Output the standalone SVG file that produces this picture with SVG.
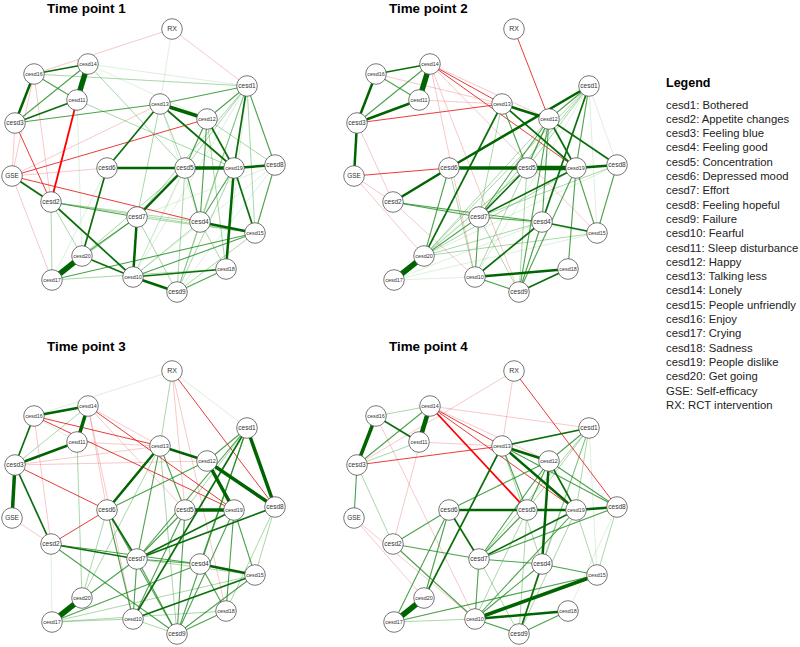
<svg xmlns="http://www.w3.org/2000/svg" width="800" height="647" viewBox="0 0 800 647">
<style>
line{fill:none}
.g6{stroke:#006400;stroke-width:5.5}
.g5{stroke:#006400;stroke-width:4.5}
.g4{stroke:#006400;stroke-width:3.5}
.g3{stroke:#006400;stroke-width:2.5}
.g2{stroke:#0b6e0b;stroke-width:1.7}
.g1{stroke:#1f8a1f;stroke-width:1.1;stroke-opacity:.8}
.g0{stroke:#3aa33a;stroke-width:.8;stroke-opacity:.55}
.gl{stroke:#5cb85c;stroke-width:.6;stroke-opacity:.35}
.r2{stroke:#ff0000;stroke-width:1.8}
.r1{stroke:#e41a1a;stroke-width:1;stroke-opacity:.85}
.r0{stroke:#e85050;stroke-width:.7;stroke-opacity:.45}
.n circle{fill:#fff;stroke:#555;stroke-width:.8}
.n text{font-family:"Liberation Sans",Arial,sans-serif;fill:#333;text-anchor:middle}
.s{font-size:6.5px}
.t{font-size:5.4px}
.x{font-size:7px}
.title{font-family:"Liberation Sans",Arial,sans-serif;font-weight:bold;font-size:13.4px;fill:#000}
.lh{font-family:"Liberation Sans",Arial,sans-serif;font-weight:bold;font-size:12.5px;fill:#000}
.li{font-family:"Liberation Sans",Arial,sans-serif;font-size:11.3px;fill:#222}
</style>
<rect width="800" height="647" fill="#fff"/>
<text class="title" x="47" y="12.7">Time point 1</text>
<text class="title" x="389" y="12.7">Time point 2</text>
<text class="title" x="47" y="350.5">Time point 3</text>
<text class="title" x="389" y="350.5">Time point 4</text>
<g id="connectors">
<g id="edges-tp1">
<line class="gl" x1="88" y1="64" x2="247" y2="86"/>
<line class="gl" x1="88" y1="64" x2="207" y2="119"/>
<line class="gl" x1="77" y1="100" x2="82" y2="256"/>
<line class="gl" x1="107" y1="168" x2="52" y2="280"/>
<line class="gl" x1="160" y1="104" x2="200" y2="222"/>
<line class="gl" x1="172" y1="29" x2="160" y2="104"/>
<line class="gl" x1="207" y1="119" x2="133" y2="277"/>
<line class="gl" x1="247" y1="86" x2="133" y2="277"/>
<line class="gl" x1="247" y1="86" x2="226" y2="269"/>
<line class="gl" x1="185" y1="168" x2="133" y2="277"/>
<line class="gl" x1="275" y1="165" x2="137" y2="217"/>
<line class="gl" x1="275" y1="165" x2="133" y2="277"/>
<line class="gl" x1="275" y1="165" x2="177" y2="292"/>
<line class="r0" x1="34" y1="74" x2="51" y2="202"/>
<line class="r0" x1="34" y1="74" x2="12" y2="176"/>
<line class="r0" x1="15" y1="123" x2="12" y2="176"/>
<line class="r0" x1="12" y1="176" x2="160" y2="104"/>
<line class="r0" x1="12" y1="176" x2="107" y2="168"/>
<line class="r0" x1="12" y1="176" x2="52" y2="280"/>
<line class="r0" x1="172" y1="29" x2="34" y2="74"/>
<line class="r0" x1="172" y1="29" x2="247" y2="86"/>
<line class="g0" x1="34" y1="74" x2="247" y2="86"/>
<line class="g0" x1="88" y1="64" x2="185" y2="168"/>
<line class="g0" x1="77" y1="100" x2="234" y2="168"/>
<line class="g0" x1="51" y1="202" x2="200" y2="222"/>
<line class="g0" x1="51" y1="202" x2="255" y2="233"/>
<line class="g0" x1="51" y1="202" x2="52" y2="280"/>
<line class="g0" x1="51" y1="202" x2="82" y2="256"/>
<line class="g0" x1="160" y1="104" x2="137" y2="217"/>
<line class="g0" x1="160" y1="104" x2="185" y2="168"/>
<line class="g0" x1="207" y1="119" x2="226" y2="269"/>
<line class="g0" x1="247" y1="86" x2="185" y2="168"/>
<line class="g0" x1="247" y1="86" x2="137" y2="217"/>
<line class="g0" x1="247" y1="86" x2="200" y2="222"/>
<line class="g0" x1="247" y1="86" x2="255" y2="233"/>
<line class="g0" x1="247" y1="86" x2="177" y2="292"/>
<line class="g0" x1="185" y1="168" x2="177" y2="292"/>
<line class="g0" x1="185" y1="168" x2="82" y2="256"/>
<line class="g0" x1="234" y1="168" x2="177" y2="292"/>
<line class="g0" x1="275" y1="165" x2="207" y2="119"/>
<line class="g0" x1="200" y1="222" x2="226" y2="269"/>
<line class="g0" x1="200" y1="222" x2="177" y2="292"/>
<line class="g0" x1="200" y1="222" x2="133" y2="277"/>
<line class="g0" x1="137" y1="217" x2="52" y2="280"/>
<line class="g0" x1="137" y1="217" x2="255" y2="233"/>
<line class="g0" x1="137" y1="217" x2="177" y2="292"/>
<line class="g0" x1="52" y1="280" x2="226" y2="269"/>
<line class="g0" x1="177" y1="292" x2="255" y2="233"/>
<line class="r1" x1="15" y1="123" x2="51" y2="202"/>
<line class="r1" x1="12" y1="176" x2="207" y2="119"/>
<line class="r1" x1="12" y1="176" x2="200" y2="222"/>
<line class="g1" x1="15" y1="123" x2="88" y2="64"/>
<line class="g1" x1="34" y1="74" x2="77" y2="100"/>
<line class="g1" x1="15" y1="123" x2="160" y2="104"/>
<line class="g1" x1="51" y1="202" x2="137" y2="217"/>
<line class="g1" x1="160" y1="104" x2="247" y2="86"/>
<line class="g1" x1="207" y1="119" x2="185" y2="168"/>
<line class="g1" x1="207" y1="119" x2="200" y2="222"/>
<line class="g1" x1="247" y1="86" x2="207" y2="119"/>
<line class="g1" x1="247" y1="86" x2="275" y2="165"/>
<line class="g1" x1="185" y1="168" x2="200" y2="222"/>
<line class="g1" x1="234" y1="168" x2="200" y2="222"/>
<line class="g1" x1="275" y1="165" x2="255" y2="233"/>
<line class="g1" x1="137" y1="217" x2="82" y2="256"/>
<line class="g1" x1="133" y1="277" x2="255" y2="233"/>
<line class="g1" x1="52" y1="280" x2="255" y2="233"/>
<line class="g1" x1="177" y1="292" x2="226" y2="269"/>
<line class="r2" x1="77" y1="100" x2="51" y2="202"/>
<line class="g2" x1="88" y1="64" x2="34" y2="74"/>
<line class="g2" x1="15" y1="123" x2="77" y2="100"/>
<line class="g2" x1="12" y1="176" x2="51" y2="202"/>
<line class="g2" x1="51" y1="202" x2="133" y2="277"/>
<line class="g2" x1="107" y1="168" x2="82" y2="256"/>
<line class="g2" x1="107" y1="168" x2="160" y2="104"/>
<line class="g2" x1="160" y1="104" x2="234" y2="168"/>
<line class="g2" x1="207" y1="119" x2="234" y2="168"/>
<line class="g2" x1="247" y1="86" x2="234" y2="168"/>
<line class="g2" x1="234" y1="168" x2="255" y2="233"/>
<line class="g2" x1="133" y1="277" x2="226" y2="269"/>
<line class="g2" x1="133" y1="277" x2="82" y2="256"/>
<line class="g3" x1="34" y1="74" x2="15" y2="123"/>
<line class="g3" x1="107" y1="168" x2="185" y2="168"/>
<line class="g3" x1="234" y1="168" x2="275" y2="165"/>
<line class="g3" x1="185" y1="168" x2="137" y2="217"/>
<line class="g3" x1="234" y1="168" x2="226" y2="269"/>
<line class="g3" x1="200" y1="222" x2="255" y2="233"/>
<line class="g3" x1="137" y1="217" x2="133" y2="277"/>
<line class="g3" x1="133" y1="277" x2="177" y2="292"/>
<line class="g4" x1="160" y1="104" x2="207" y2="119"/>
<line class="g4" x1="185" y1="168" x2="234" y2="168"/>
<line class="g6" x1="88" y1="64" x2="77" y2="100"/>
<line class="g6" x1="82" y1="256" x2="52" y2="280"/>
</g>
<g id="edges-tp2" transform="translate(342,0)">
<line class="gl" x1="51" y1="202" x2="255" y2="233"/>
<line class="gl" x1="247" y1="86" x2="275" y2="165"/>
<line class="gl" x1="247" y1="86" x2="255" y2="233"/>
<line class="gl" x1="247" y1="86" x2="133" y2="277"/>
<line class="gl" x1="247" y1="86" x2="177" y2="292"/>
<line class="gl" x1="185" y1="168" x2="52" y2="280"/>
<line class="gl" x1="275" y1="165" x2="82" y2="256"/>
<line class="gl" x1="52" y1="280" x2="133" y2="277"/>
<line class="gl" x1="52" y1="280" x2="200" y2="222"/>
<line class="gl" x1="52" y1="280" x2="255" y2="233"/>
<line class="r0" x1="34" y1="74" x2="160" y2="104"/>
<line class="r0" x1="77" y1="100" x2="160" y2="104"/>
<line class="r0" x1="88" y1="64" x2="207" y2="119"/>
<line class="r0" x1="88" y1="64" x2="255" y2="233"/>
<line class="r0" x1="88" y1="64" x2="177" y2="292"/>
<line class="r0" x1="88" y1="64" x2="133" y2="277"/>
<line class="r0" x1="12" y1="176" x2="51" y2="202"/>
<line class="r0" x1="15" y1="123" x2="51" y2="202"/>
<line class="r0" x1="51" y1="202" x2="133" y2="277"/>
<line class="r0" x1="12" y1="176" x2="82" y2="256"/>
<line class="g0" x1="160" y1="104" x2="137" y2="217"/>
<line class="g0" x1="207" y1="119" x2="82" y2="256"/>
<line class="g0" x1="207" y1="119" x2="133" y2="277"/>
<line class="g0" x1="247" y1="86" x2="137" y2="217"/>
<line class="g0" x1="247" y1="86" x2="82" y2="256"/>
<line class="g0" x1="247" y1="86" x2="185" y2="168"/>
<line class="g0" x1="185" y1="168" x2="82" y2="256"/>
<line class="g0" x1="275" y1="165" x2="137" y2="217"/>
<line class="g0" x1="137" y1="217" x2="177" y2="292"/>
<line class="g0" x1="82" y1="256" x2="255" y2="233"/>
<line class="g0" x1="82" y1="256" x2="200" y2="222"/>
<line class="g0" x1="82" y1="256" x2="234" y2="168"/>
<line class="g0" x1="107" y1="168" x2="133" y2="277"/>
<line class="g0" x1="185" y1="168" x2="177" y2="292"/>
<line class="r1" x1="15" y1="123" x2="160" y2="104"/>
<line class="r1" x1="88" y1="64" x2="160" y2="104"/>
<line class="r1" x1="88" y1="64" x2="234" y2="168"/>
<line class="r1" x1="172" y1="29" x2="207" y2="119"/>
<line class="r1" x1="12" y1="176" x2="107" y2="168"/>
<line class="g1" x1="15" y1="123" x2="88" y2="64"/>
<line class="g1" x1="34" y1="74" x2="77" y2="100"/>
<line class="g1" x1="51" y1="202" x2="137" y2="217"/>
<line class="g1" x1="51" y1="202" x2="200" y2="222"/>
<line class="g1" x1="107" y1="168" x2="82" y2="256"/>
<line class="g1" x1="160" y1="104" x2="185" y2="168"/>
<line class="g1" x1="207" y1="119" x2="185" y2="168"/>
<line class="g1" x1="207" y1="119" x2="137" y2="217"/>
<line class="g1" x1="207" y1="119" x2="200" y2="222"/>
<line class="g1" x1="247" y1="86" x2="207" y2="119"/>
<line class="g1" x1="247" y1="86" x2="234" y2="168"/>
<line class="g1" x1="234" y1="168" x2="255" y2="233"/>
<line class="g1" x1="234" y1="168" x2="226" y2="269"/>
<line class="g1" x1="234" y1="168" x2="177" y2="292"/>
<line class="g1" x1="275" y1="165" x2="255" y2="233"/>
<line class="g1" x1="200" y1="222" x2="177" y2="292"/>
<line class="g1" x1="200" y1="222" x2="137" y2="217"/>
<line class="g1" x1="137" y1="217" x2="133" y2="277"/>
<line class="g1" x1="137" y1="217" x2="82" y2="256"/>
<line class="g1" x1="133" y1="277" x2="177" y2="292"/>
<line class="g1" x1="177" y1="292" x2="207" y2="119"/>
<line class="g2" x1="88" y1="64" x2="34" y2="74"/>
<line class="g2" x1="160" y1="104" x2="82" y2="256"/>
<line class="g2" x1="160" y1="104" x2="234" y2="168"/>
<line class="g2" x1="207" y1="119" x2="275" y2="165"/>
<line class="g2" x1="207" y1="119" x2="234" y2="168"/>
<line class="g2" x1="247" y1="86" x2="200" y2="222"/>
<line class="g2" x1="234" y1="168" x2="137" y2="217"/>
<line class="g2" x1="185" y1="168" x2="137" y2="217"/>
<line class="g2" x1="200" y1="222" x2="255" y2="233"/>
<line class="g2" x1="200" y1="222" x2="133" y2="277"/>
<line class="g2" x1="177" y1="292" x2="226" y2="269"/>
<line class="g3" x1="34" y1="74" x2="15" y2="123"/>
<line class="g3" x1="15" y1="123" x2="77" y2="100"/>
<line class="g3" x1="15" y1="123" x2="12" y2="176"/>
<line class="g3" x1="51" y1="202" x2="107" y2="168"/>
<line class="g3" x1="107" y1="168" x2="247" y2="86"/>
<line class="g3" x1="160" y1="104" x2="207" y2="119"/>
<line class="g3" x1="234" y1="168" x2="275" y2="165"/>
<line class="g3" x1="133" y1="277" x2="226" y2="269"/>
<line class="g4" x1="107" y1="168" x2="185" y2="168"/>
<line class="g5" x1="185" y1="168" x2="234" y2="168"/>
<line class="g6" x1="88" y1="64" x2="77" y2="100"/>
<line class="g6" x1="82" y1="256" x2="52" y2="280"/>
</g>
<g id="edges-tp3" transform="translate(0,342)">
<line class="gl" x1="172" y1="29" x2="34" y2="74"/>
<line class="gl" x1="172" y1="29" x2="247" y2="86"/>
<line class="gl" x1="34" y1="74" x2="77" y2="100"/>
<line class="gl" x1="51" y1="202" x2="52" y2="280"/>
<line class="r0" x1="172" y1="29" x2="185" y2="168"/>
<line class="r0" x1="172" y1="29" x2="226" y2="269"/>
<line class="r0" x1="88" y1="64" x2="160" y2="104"/>
<line class="r0" x1="88" y1="64" x2="107" y2="168"/>
<line class="r0" x1="88" y1="64" x2="133" y2="277"/>
<line class="r0" x1="88" y1="64" x2="185" y2="168"/>
<line class="r0" x1="77" y1="100" x2="160" y2="104"/>
<line class="r0" x1="15" y1="123" x2="207" y2="119"/>
<line class="r0" x1="15" y1="123" x2="160" y2="104"/>
<line class="r0" x1="12" y1="176" x2="51" y2="202"/>
<line class="r0" x1="34" y1="74" x2="51" y2="202"/>
<line class="g0" x1="172" y1="29" x2="160" y2="104"/>
<line class="g0" x1="15" y1="123" x2="88" y2="64"/>
<line class="g0" x1="107" y1="168" x2="82" y2="256"/>
<line class="g0" x1="247" y1="86" x2="185" y2="168"/>
<line class="g0" x1="160" y1="104" x2="82" y2="256"/>
<line class="g0" x1="160" y1="104" x2="177" y2="292"/>
<line class="g0" x1="137" y1="217" x2="255" y2="233"/>
<line class="g0" x1="255" y1="233" x2="52" y2="280"/>
<line class="g0" x1="52" y1="280" x2="133" y2="277"/>
<line class="g0" x1="52" y1="280" x2="226" y2="269"/>
<line class="g0" x1="133" y1="277" x2="177" y2="292"/>
<line class="g0" x1="275" y1="165" x2="255" y2="233"/>
<line class="g0" x1="275" y1="165" x2="226" y2="269"/>
<line class="g0" x1="77" y1="100" x2="82" y2="256"/>
<line class="r1" x1="172" y1="29" x2="275" y2="165"/>
<line class="r1" x1="34" y1="74" x2="160" y2="104"/>
<line class="r1" x1="34" y1="74" x2="234" y2="168"/>
<line class="r1" x1="88" y1="64" x2="234" y2="168"/>
<line class="r1" x1="15" y1="123" x2="107" y2="168"/>
<line class="r1" x1="107" y1="168" x2="51" y2="202"/>
<line class="g1" x1="107" y1="168" x2="133" y2="277"/>
<line class="g1" x1="107" y1="168" x2="177" y2="292"/>
<line class="g1" x1="107" y1="168" x2="207" y2="119"/>
<line class="g1" x1="247" y1="86" x2="207" y2="119"/>
<line class="g1" x1="247" y1="86" x2="177" y2="292"/>
<line class="g1" x1="247" y1="86" x2="137" y2="217"/>
<line class="g1" x1="247" y1="86" x2="200" y2="222"/>
<line class="g1" x1="185" y1="168" x2="137" y2="217"/>
<line class="g1" x1="185" y1="168" x2="133" y2="277"/>
<line class="g1" x1="185" y1="168" x2="177" y2="292"/>
<line class="g1" x1="160" y1="104" x2="185" y2="168"/>
<line class="g1" x1="160" y1="104" x2="137" y2="217"/>
<line class="g1" x1="51" y1="202" x2="200" y2="222"/>
<line class="g1" x1="51" y1="202" x2="177" y2="292"/>
<line class="g1" x1="137" y1="217" x2="200" y2="222"/>
<line class="g1" x1="137" y1="217" x2="177" y2="292"/>
<line class="g1" x1="137" y1="217" x2="52" y2="280"/>
<line class="g1" x1="137" y1="217" x2="133" y2="277"/>
<line class="g1" x1="200" y1="222" x2="52" y2="280"/>
<line class="g1" x1="200" y1="222" x2="226" y2="269"/>
<line class="g1" x1="255" y1="233" x2="177" y2="292"/>
<line class="g1" x1="177" y1="292" x2="226" y2="269"/>
<line class="g1" x1="234" y1="168" x2="255" y2="233"/>
<line class="g1" x1="234" y1="168" x2="177" y2="292"/>
<line class="g1" x1="234" y1="168" x2="226" y2="269"/>
<line class="g2" x1="34" y1="74" x2="15" y2="123"/>
<line class="g2" x1="15" y1="123" x2="51" y2="202"/>
<line class="g2" x1="107" y1="168" x2="137" y2="217"/>
<line class="g2" x1="247" y1="86" x2="133" y2="277"/>
<line class="g2" x1="234" y1="168" x2="137" y2="217"/>
<line class="g2" x1="275" y1="165" x2="137" y2="217"/>
<line class="g2" x1="51" y1="202" x2="137" y2="217"/>
<line class="g2" x1="255" y1="233" x2="133" y2="277"/>
<line class="g3" x1="88" y1="64" x2="34" y2="74"/>
<line class="g3" x1="15" y1="123" x2="77" y2="100"/>
<line class="g3" x1="107" y1="168" x2="160" y2="104"/>
<line class="g3" x1="160" y1="104" x2="207" y2="119"/>
<line class="g3" x1="200" y1="222" x2="255" y2="233"/>
<line class="g4" x1="88" y1="64" x2="77" y2="100"/>
<line class="g4" x1="15" y1="123" x2="12" y2="176"/>
<line class="g4" x1="207" y1="119" x2="275" y2="165"/>
<line class="g4" x1="207" y1="119" x2="234" y2="168"/>
<line class="g4" x1="234" y1="168" x2="185" y2="168"/>
<line class="g4" x1="247" y1="86" x2="275" y2="165"/>
<line class="g6" x1="82" y1="256" x2="52" y2="280"/>
</g>
<g id="edges-tp4" transform="translate(342,342)">
<line class="gl" x1="247" y1="86" x2="255" y2="233"/>
<line class="gl" x1="275" y1="165" x2="226" y2="269"/>
<line class="r0" x1="172" y1="29" x2="15" y2="123"/>
<line class="r0" x1="172" y1="29" x2="160" y2="104"/>
<line class="r0" x1="88" y1="64" x2="207" y2="119"/>
<line class="r0" x1="88" y1="64" x2="247" y2="86"/>
<line class="r0" x1="77" y1="100" x2="160" y2="104"/>
<line class="r0" x1="34" y1="74" x2="133" y2="277"/>
<line class="r0" x1="88" y1="64" x2="51" y2="202"/>
<line class="r0" x1="12" y1="176" x2="133" y2="277"/>
<line class="r0" x1="12" y1="176" x2="82" y2="256"/>
<line class="g0" x1="88" y1="64" x2="34" y2="74"/>
<line class="g0" x1="15" y1="123" x2="77" y2="100"/>
<line class="g0" x1="15" y1="123" x2="51" y2="202"/>
<line class="g0" x1="160" y1="104" x2="200" y2="222"/>
<line class="g0" x1="247" y1="86" x2="185" y2="168"/>
<line class="g0" x1="247" y1="86" x2="137" y2="217"/>
<line class="g0" x1="247" y1="86" x2="200" y2="222"/>
<line class="g0" x1="247" y1="86" x2="234" y2="168"/>
<line class="g0" x1="247" y1="86" x2="177" y2="292"/>
<line class="g0" x1="137" y1="217" x2="177" y2="292"/>
<line class="g0" x1="52" y1="280" x2="133" y2="277"/>
<line class="g0" x1="234" y1="168" x2="177" y2="292"/>
<line class="g0" x1="275" y1="165" x2="255" y2="233"/>
<line class="g0" x1="185" y1="168" x2="177" y2="292"/>
<line class="g0" x1="185" y1="168" x2="133" y2="277"/>
<line class="g0" x1="234" y1="168" x2="255" y2="233"/>
<line class="r1" x1="172" y1="29" x2="275" y2="165"/>
<line class="r1" x1="15" y1="123" x2="160" y2="104"/>
<line class="r1" x1="88" y1="64" x2="160" y2="104"/>
<line class="r1" x1="88" y1="64" x2="234" y2="168"/>
<line class="g1" x1="88" y1="64" x2="15" y2="123"/>
<line class="g1" x1="15" y1="123" x2="12" y2="176"/>
<line class="g1" x1="160" y1="104" x2="275" y2="165"/>
<line class="g1" x1="160" y1="104" x2="185" y2="168"/>
<line class="g1" x1="207" y1="119" x2="275" y2="165"/>
<line class="g1" x1="207" y1="119" x2="185" y2="168"/>
<line class="g1" x1="207" y1="119" x2="137" y2="217"/>
<line class="g1" x1="207" y1="119" x2="107" y2="168"/>
<line class="g1" x1="247" y1="86" x2="207" y2="119"/>
<line class="g1" x1="107" y1="168" x2="51" y2="202"/>
<line class="g1" x1="107" y1="168" x2="82" y2="256"/>
<line class="g1" x1="107" y1="168" x2="52" y2="280"/>
<line class="g1" x1="51" y1="202" x2="137" y2="217"/>
<line class="g1" x1="51" y1="202" x2="133" y2="277"/>
<line class="g1" x1="137" y1="217" x2="200" y2="222"/>
<line class="g1" x1="137" y1="217" x2="275" y2="165"/>
<line class="g1" x1="137" y1="217" x2="185" y2="168"/>
<line class="g1" x1="137" y1="217" x2="133" y2="277"/>
<line class="g1" x1="200" y1="222" x2="255" y2="233"/>
<line class="g1" x1="200" y1="222" x2="133" y2="277"/>
<line class="g1" x1="133" y1="277" x2="177" y2="292"/>
<line class="g1" x1="52" y1="280" x2="255" y2="233"/>
<line class="g1" x1="177" y1="292" x2="226" y2="269"/>
<line class="g1" x1="234" y1="168" x2="133" y2="277"/>
<line class="r2" x1="88" y1="64" x2="185" y2="168"/>
<line class="g2" x1="34" y1="74" x2="77" y2="100"/>
<line class="g2" x1="160" y1="104" x2="247" y2="86"/>
<line class="g2" x1="160" y1="104" x2="82" y2="256"/>
<line class="g2" x1="207" y1="119" x2="234" y2="168"/>
<line class="g2" x1="107" y1="168" x2="137" y2="217"/>
<line class="g2" x1="137" y1="217" x2="234" y2="168"/>
<line class="g2" x1="200" y1="222" x2="177" y2="292"/>
<line class="g3" x1="160" y1="104" x2="207" y2="119"/>
<line class="g3" x1="160" y1="104" x2="234" y2="168"/>
<line class="g3" x1="207" y1="119" x2="200" y2="222"/>
<line class="g3" x1="107" y1="168" x2="185" y2="168"/>
<line class="g3" x1="185" y1="168" x2="234" y2="168"/>
<line class="g3" x1="234" y1="168" x2="275" y2="165"/>
<line class="g3" x1="133" y1="277" x2="226" y2="269"/>
<line class="g4" x1="34" y1="74" x2="15" y2="123"/>
<line class="g4" x1="133" y1="277" x2="255" y2="233"/>
<line class="g5" x1="88" y1="64" x2="77" y2="100"/>
<line class="g6" x1="82" y1="256" x2="52" y2="280"/>
</g>
</g>
<g id="nodes-tp1" class="n">
<g id="tp1-RX"><circle cx="172" cy="29" r="10.3"/><text class="x" x="172" y="31.4">RX</text></g>
<g id="tp1-cesd1"><circle cx="247" cy="86" r="10.3"/><text class="s" x="247" y="88.3">cesd1</text></g>
<g id="tp1-cesd2"><circle cx="51" cy="202" r="10.3"/><text class="s" x="51" y="204.3">cesd2</text></g>
<g id="tp1-cesd3"><circle cx="15" cy="123" r="10.3"/><text class="s" x="15" y="125.3">cesd3</text></g>
<g id="tp1-cesd4"><circle cx="200" cy="222" r="10.3"/><text class="s" x="200" y="224.3">cesd4</text></g>
<g id="tp1-cesd5"><circle cx="185" cy="168" r="10.3"/><text class="s" x="185" y="170.3">cesd5</text></g>
<g id="tp1-cesd6"><circle cx="107" cy="168" r="10.3"/><text class="s" x="107" y="170.3">cesd6</text></g>
<g id="tp1-cesd7"><circle cx="137" cy="217" r="10.3"/><text class="s" x="137" y="219.3">cesd7</text></g>
<g id="tp1-cesd8"><circle cx="275" cy="165" r="10.3"/><text class="s" x="275" y="167.3">cesd8</text></g>
<g id="tp1-cesd9"><circle cx="177" cy="292" r="10.3"/><text class="s" x="177" y="294.3">cesd9</text></g>
<g id="tp1-cesd10"><circle cx="133" cy="277" r="10.3"/><text class="t" x="133" y="279">cesd10</text></g>
<g id="tp1-cesd11"><circle cx="77" cy="100" r="10.3"/><text class="t" x="77" y="102">cesd11</text></g>
<g id="tp1-cesd12"><circle cx="207" cy="119" r="10.3"/><text class="t" x="207" y="121">cesd12</text></g>
<g id="tp1-cesd13"><circle cx="160" cy="104" r="10.3"/><text class="t" x="160" y="106">cesd13</text></g>
<g id="tp1-cesd14"><circle cx="88" cy="64" r="10.3"/><text class="t" x="88" y="66">cesd14</text></g>
<g id="tp1-cesd15"><circle cx="255" cy="233" r="10.3"/><text class="t" x="255" y="235">cesd15</text></g>
<g id="tp1-cesd16"><circle cx="34" cy="74" r="10.3"/><text class="t" x="34" y="76">cesd16</text></g>
<g id="tp1-cesd17"><circle cx="52" cy="280" r="10.3"/><text class="t" x="52" y="282">cesd17</text></g>
<g id="tp1-cesd18"><circle cx="226" cy="269" r="10.3"/><text class="t" x="226" y="271">cesd18</text></g>
<g id="tp1-cesd19"><circle cx="234" cy="168" r="10.3"/><text class="t" x="234" y="170">cesd19</text></g>
<g id="tp1-cesd20"><circle cx="82" cy="256" r="10.3"/><text class="t" x="82" y="258">cesd20</text></g>
<g id="tp1-GSE"><circle cx="12" cy="176" r="10.3"/><text class="s" x="12" y="178.3">GSE</text></g>
</g>
<g id="nodes-tp2" class="n" transform="translate(342,0)">
<g id="tp2-RX"><circle cx="172" cy="29" r="10.3"/><text class="x" x="172" y="31.4">RX</text></g>
<g id="tp2-cesd1"><circle cx="247" cy="86" r="10.3"/><text class="s" x="247" y="88.3">cesd1</text></g>
<g id="tp2-cesd2"><circle cx="51" cy="202" r="10.3"/><text class="s" x="51" y="204.3">cesd2</text></g>
<g id="tp2-cesd3"><circle cx="15" cy="123" r="10.3"/><text class="s" x="15" y="125.3">cesd3</text></g>
<g id="tp2-cesd4"><circle cx="200" cy="222" r="10.3"/><text class="s" x="200" y="224.3">cesd4</text></g>
<g id="tp2-cesd5"><circle cx="185" cy="168" r="10.3"/><text class="s" x="185" y="170.3">cesd5</text></g>
<g id="tp2-cesd6"><circle cx="107" cy="168" r="10.3"/><text class="s" x="107" y="170.3">cesd6</text></g>
<g id="tp2-cesd7"><circle cx="137" cy="217" r="10.3"/><text class="s" x="137" y="219.3">cesd7</text></g>
<g id="tp2-cesd8"><circle cx="275" cy="165" r="10.3"/><text class="s" x="275" y="167.3">cesd8</text></g>
<g id="tp2-cesd9"><circle cx="177" cy="292" r="10.3"/><text class="s" x="177" y="294.3">cesd9</text></g>
<g id="tp2-cesd10"><circle cx="133" cy="277" r="10.3"/><text class="t" x="133" y="279">cesd10</text></g>
<g id="tp2-cesd11"><circle cx="77" cy="100" r="10.3"/><text class="t" x="77" y="102">cesd11</text></g>
<g id="tp2-cesd12"><circle cx="207" cy="119" r="10.3"/><text class="t" x="207" y="121">cesd12</text></g>
<g id="tp2-cesd13"><circle cx="160" cy="104" r="10.3"/><text class="t" x="160" y="106">cesd13</text></g>
<g id="tp2-cesd14"><circle cx="88" cy="64" r="10.3"/><text class="t" x="88" y="66">cesd14</text></g>
<g id="tp2-cesd15"><circle cx="255" cy="233" r="10.3"/><text class="t" x="255" y="235">cesd15</text></g>
<g id="tp2-cesd16"><circle cx="34" cy="74" r="10.3"/><text class="t" x="34" y="76">cesd16</text></g>
<g id="tp2-cesd17"><circle cx="52" cy="280" r="10.3"/><text class="t" x="52" y="282">cesd17</text></g>
<g id="tp2-cesd18"><circle cx="226" cy="269" r="10.3"/><text class="t" x="226" y="271">cesd18</text></g>
<g id="tp2-cesd19"><circle cx="234" cy="168" r="10.3"/><text class="t" x="234" y="170">cesd19</text></g>
<g id="tp2-cesd20"><circle cx="82" cy="256" r="10.3"/><text class="t" x="82" y="258">cesd20</text></g>
<g id="tp2-GSE"><circle cx="12" cy="176" r="10.3"/><text class="s" x="12" y="178.3">GSE</text></g>
</g>
<g id="nodes-tp3" class="n" transform="translate(0,342)">
<g id="tp3-RX"><circle cx="172" cy="29" r="10.3"/><text class="x" x="172" y="31.4">RX</text></g>
<g id="tp3-cesd1"><circle cx="247" cy="86" r="10.3"/><text class="s" x="247" y="88.3">cesd1</text></g>
<g id="tp3-cesd2"><circle cx="51" cy="202" r="10.3"/><text class="s" x="51" y="204.3">cesd2</text></g>
<g id="tp3-cesd3"><circle cx="15" cy="123" r="10.3"/><text class="s" x="15" y="125.3">cesd3</text></g>
<g id="tp3-cesd4"><circle cx="200" cy="222" r="10.3"/><text class="s" x="200" y="224.3">cesd4</text></g>
<g id="tp3-cesd5"><circle cx="185" cy="168" r="10.3"/><text class="s" x="185" y="170.3">cesd5</text></g>
<g id="tp3-cesd6"><circle cx="107" cy="168" r="10.3"/><text class="s" x="107" y="170.3">cesd6</text></g>
<g id="tp3-cesd7"><circle cx="137" cy="217" r="10.3"/><text class="s" x="137" y="219.3">cesd7</text></g>
<g id="tp3-cesd8"><circle cx="275" cy="165" r="10.3"/><text class="s" x="275" y="167.3">cesd8</text></g>
<g id="tp3-cesd9"><circle cx="177" cy="292" r="10.3"/><text class="s" x="177" y="294.3">cesd9</text></g>
<g id="tp3-cesd10"><circle cx="133" cy="277" r="10.3"/><text class="t" x="133" y="279">cesd10</text></g>
<g id="tp3-cesd11"><circle cx="77" cy="100" r="10.3"/><text class="t" x="77" y="102">cesd11</text></g>
<g id="tp3-cesd12"><circle cx="207" cy="119" r="10.3"/><text class="t" x="207" y="121">cesd12</text></g>
<g id="tp3-cesd13"><circle cx="160" cy="104" r="10.3"/><text class="t" x="160" y="106">cesd13</text></g>
<g id="tp3-cesd14"><circle cx="88" cy="64" r="10.3"/><text class="t" x="88" y="66">cesd14</text></g>
<g id="tp3-cesd15"><circle cx="255" cy="233" r="10.3"/><text class="t" x="255" y="235">cesd15</text></g>
<g id="tp3-cesd16"><circle cx="34" cy="74" r="10.3"/><text class="t" x="34" y="76">cesd16</text></g>
<g id="tp3-cesd17"><circle cx="52" cy="280" r="10.3"/><text class="t" x="52" y="282">cesd17</text></g>
<g id="tp3-cesd18"><circle cx="226" cy="269" r="10.3"/><text class="t" x="226" y="271">cesd18</text></g>
<g id="tp3-cesd19"><circle cx="234" cy="168" r="10.3"/><text class="t" x="234" y="170">cesd19</text></g>
<g id="tp3-cesd20"><circle cx="82" cy="256" r="10.3"/><text class="t" x="82" y="258">cesd20</text></g>
<g id="tp3-GSE"><circle cx="12" cy="176" r="10.3"/><text class="s" x="12" y="178.3">GSE</text></g>
</g>
<g id="nodes-tp4" class="n" transform="translate(342,342)">
<g id="tp4-RX"><circle cx="172" cy="29" r="10.3"/><text class="x" x="172" y="31.4">RX</text></g>
<g id="tp4-cesd1"><circle cx="247" cy="86" r="10.3"/><text class="s" x="247" y="88.3">cesd1</text></g>
<g id="tp4-cesd2"><circle cx="51" cy="202" r="10.3"/><text class="s" x="51" y="204.3">cesd2</text></g>
<g id="tp4-cesd3"><circle cx="15" cy="123" r="10.3"/><text class="s" x="15" y="125.3">cesd3</text></g>
<g id="tp4-cesd4"><circle cx="200" cy="222" r="10.3"/><text class="s" x="200" y="224.3">cesd4</text></g>
<g id="tp4-cesd5"><circle cx="185" cy="168" r="10.3"/><text class="s" x="185" y="170.3">cesd5</text></g>
<g id="tp4-cesd6"><circle cx="107" cy="168" r="10.3"/><text class="s" x="107" y="170.3">cesd6</text></g>
<g id="tp4-cesd7"><circle cx="137" cy="217" r="10.3"/><text class="s" x="137" y="219.3">cesd7</text></g>
<g id="tp4-cesd8"><circle cx="275" cy="165" r="10.3"/><text class="s" x="275" y="167.3">cesd8</text></g>
<g id="tp4-cesd9"><circle cx="177" cy="292" r="10.3"/><text class="s" x="177" y="294.3">cesd9</text></g>
<g id="tp4-cesd10"><circle cx="133" cy="277" r="10.3"/><text class="t" x="133" y="279">cesd10</text></g>
<g id="tp4-cesd11"><circle cx="77" cy="100" r="10.3"/><text class="t" x="77" y="102">cesd11</text></g>
<g id="tp4-cesd12"><circle cx="207" cy="119" r="10.3"/><text class="t" x="207" y="121">cesd12</text></g>
<g id="tp4-cesd13"><circle cx="160" cy="104" r="10.3"/><text class="t" x="160" y="106">cesd13</text></g>
<g id="tp4-cesd14"><circle cx="88" cy="64" r="10.3"/><text class="t" x="88" y="66">cesd14</text></g>
<g id="tp4-cesd15"><circle cx="255" cy="233" r="10.3"/><text class="t" x="255" y="235">cesd15</text></g>
<g id="tp4-cesd16"><circle cx="34" cy="74" r="10.3"/><text class="t" x="34" y="76">cesd16</text></g>
<g id="tp4-cesd17"><circle cx="52" cy="280" r="10.3"/><text class="t" x="52" y="282">cesd17</text></g>
<g id="tp4-cesd18"><circle cx="226" cy="269" r="10.3"/><text class="t" x="226" y="271">cesd18</text></g>
<g id="tp4-cesd19"><circle cx="234" cy="168" r="10.3"/><text class="t" x="234" y="170">cesd19</text></g>
<g id="tp4-cesd20"><circle cx="82" cy="256" r="10.3"/><text class="t" x="82" y="258">cesd20</text></g>
<g id="tp4-GSE"><circle cx="12" cy="176" r="10.3"/><text class="s" x="12" y="178.3">GSE</text></g>
</g>
<g id="legend">
<text class="lh" x="666" y="86.5">Legend</text>
<text class="li" x="666" y="108.5">cesd1: Bothered</text>
<text class="li" x="666" y="122.8">cesd2: Appetite changes</text>
<text class="li" x="666" y="137.1">cesd3: Feeling blue</text>
<text class="li" x="666" y="151.4">cesd4: Feeling good</text>
<text class="li" x="666" y="165.7">cesd5: Concentration</text>
<text class="li" x="666" y="180">cesd6: Depressed mood</text>
<text class="li" x="666" y="194.3">cesd7: Effort</text>
<text class="li" x="666" y="208.6">cesd8: Feeling hopeful</text>
<text class="li" x="666" y="222.9">cesd9: Failure</text>
<text class="li" x="666" y="237.2">cesd10: Fearful</text>
<text class="li" x="666" y="251.5">cesd11: Sleep disturbance</text>
<text class="li" x="666" y="265.8">cesd12: Happy</text>
<text class="li" x="666" y="280.1">cesd13: Talking less</text>
<text class="li" x="666" y="294.4">cesd14: Lonely</text>
<text class="li" x="666" y="308.7">cesd15: People unfriendly</text>
<text class="li" x="666" y="323">cesd16: Enjoy</text>
<text class="li" x="666" y="337.3">cesd17: Crying</text>
<text class="li" x="666" y="351.6">cesd18: Sadness</text>
<text class="li" x="666" y="365.9">cesd19: People dislike</text>
<text class="li" x="666" y="380.2">cesd20: Get going</text>
<text class="li" x="666" y="394.5">GSE: Self-efficacy</text>
<text class="li" x="666" y="408.8">RX: RCT intervention</text>
</g>
</svg>
